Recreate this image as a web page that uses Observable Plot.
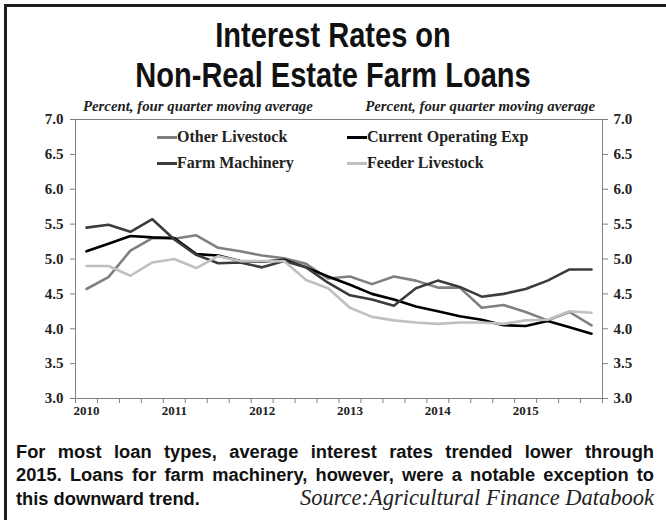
<!DOCTYPE html>
<html><head><meta charset="utf-8">
<script src="https://cdn.jsdelivr.net/npm/d3@7"></script>
<script src="https://cdn.jsdelivr.net/npm/@observablehq/plot@0.6"></script>
<style>
html,body{margin:0;padding:0;background:#fff;}
#root{position:relative;width:666px;height:520px;overflow:hidden;background:#fff;}
#border{position:absolute;left:4px;top:4px;width:700px;height:600px;border-left:3px solid #1e1e1e;border-top:3px solid #1e1e1e;}
#title{position:absolute;left:0;width:666px;top:15px;text-align:center;font-family:"Liberation Sans",Arial,sans-serif;font-weight:bold;font-size:35px;line-height:40px;color:#111;transform:scaleX(0.83);transform-origin:333px 0;}
.sub{position:absolute;top:99px;font-family:"Liberation Serif",serif;font-style:italic;font-weight:bold;font-size:14.8px;line-height:15px;color:#222;white-space:nowrap;}
#chart{position:absolute;left:0;top:100px;}
.leg{position:absolute;display:flex;align-items:center;font-family:"Liberation Serif",serif;font-weight:bold;font-size:16px;line-height:18px;color:#222;white-space:nowrap;}
.leg .sw{display:inline-block;width:20px;height:3px;}
.cap{position:absolute;left:16px;width:638px;font-family:"Liberation Sans",Arial,sans-serif;font-weight:bold;font-size:18.3px;line-height:23px;color:#111;text-align:justify;text-align-last:justify;white-space:nowrap;}
.cap3{display:flex;justify-content:space-between;align-items:baseline;text-align:left;text-align-last:auto;}
.src{font-family:"Liberation Serif",serif;font-style:italic;font-weight:normal;font-size:22.5px;color:#222;}
</style>
</head><body>
<div id="root">
  <div id="border"></div>
  <div id="title">Interest Rates on<br>Non-Real Estate Farm Loans</div>
  <div id="chart"></div>
  <div class="sub" style="left:83px;">Percent, four quarter moving average</div>
  <div class="sub" style="right:71px;">Percent, four quarter moving average</div>
  <div id="legend"></div>
  <div class="cap" style="top:440px;">For most loan types, average interest rates trended lower through</div>
  <div class="cap" style="top:463px;">2015. Loans for farm machinery, however, were a notable exception to</div>
  <div class="cap cap3" style="top:486px;"><span>this downward trend.</span><span class="src">Source:Agricultural Finance Databook</span></div>
</div>
<script>
const years = ["2010","2011","2012","2013","2014","2015"];
const quarterNames = ["Q1","Q2","Q3","Q4"];
const yTicks = [3.0,3.5,4.0,4.5,5.0,5.5,6.0,6.5,7.0];
const seriesNames = ["Other Livestock","Current Operating Exp","Farm Machinery","Feeder Livestock"];
const seriesColors = ["#808080","#000000","#3c3c3c","#c0c0c0"];

const otherLivestock   = [4.57,4.74,5.12,5.30,5.29,5.34,5.16,5.11,5.05,5.01,4.93,4.72,4.75,4.64,4.75,4.69,4.59,4.59,4.30,4.34,4.24,4.12,4.24,4.05];
const currentOperating = [5.11,5.22,5.33,5.31,5.30,5.07,5.05,4.97,4.96,4.99,4.88,4.75,4.63,4.50,4.42,4.32,4.25,4.18,4.13,4.05,4.04,4.11,4.02,3.93];
const farmMachinery    = [5.45,5.49,5.39,5.57,5.28,5.06,4.94,4.95,4.88,4.97,4.88,4.66,4.48,4.42,4.33,4.58,4.69,4.60,4.46,4.50,4.57,4.69,4.85,4.85];
const feederLivestock  = [4.90,4.90,4.76,4.95,5.00,4.87,5.04,4.97,4.97,4.97,4.70,4.58,4.30,4.17,4.12,4.09,4.07,4.09,4.09,4.07,4.12,4.13,4.25,4.23];

const seriesValues = [otherLivestock, currentOperating, farmMachinery, feederLivestock];
const quarters = years.flatMap(y => quarterNames.map(q => y + q));
const data = seriesNames.flatMap((name, s) => seriesValues[s].map((v, i) => ({series: name, quarter: quarters[i], i, value: v})));
const boundaries = d3.range(quarters.length + 1).map(i => i - 0.5);
const yearPos = years.map((y, k) => k * quarterNames.length);

const chart = Plot.plot({
  width: 666, height: 320,
  marginTop: 19, marginBottom: 22, marginLeft: 75, marginRight: 64,
  style: {fontFamily: "Liberation Serif, serif", fontWeight: "bold", color: "#222", background: "transparent"},
  x: {domain: [-0.5, quarters.length - 0.5]},
  y: {domain: [yTicks[0], yTicks[yTicks.length - 1]]},
  color: {domain: seriesNames, range: seriesColors},
  marks: [
    Plot.frame({stroke: "#808080"}),
    Plot.axisY(yTicks, {anchor: "left", tickSize: 5, tickPadding: 7, tickFormat: d3.format(".1f"), fontSize: 15, stroke: "#808080", fill: "#222", label: null}),
    Plot.axisY(yTicks, {anchor: "right", tickSize: 5, tickPadding: 6, tickFormat: d3.format(".1f"), fontSize: 15, stroke: "#808080", fill: "#222", label: null}),
    Plot.axisX(boundaries, {anchor: "bottom", tickSize: 5, tickFormat: () => "", stroke: "#808080", label: null}),
    Plot.axisX(yearPos, {anchor: "bottom", tickSize: 0, tickPadding: 7, tickFormat: p => years[p / quarterNames.length], fontSize: 13, fill: "#222", label: null}),
    Plot.line(data, {x: "i", y: "value", z: "series", stroke: "series", strokeWidth: 2.6, strokeLinejoin: "round", strokeLinecap: "round"})
  ]
});
document.getElementById("chart").appendChild(chart);

const legendPos = [[157,128],[347,128],[157,154],[347,154]];
const leg = document.getElementById("legend");
seriesNames.forEach((name, k) => {
  const d = document.createElement("div");
  d.className = "leg";
  d.style.left = legendPos[k][0] + "px";
  d.style.top = legendPos[k][1] + "px";
  d.innerHTML = `<span class="sw" style="background:${seriesColors[k]}"></span><span>${name}</span>`;
  leg.appendChild(d);
});
</script>
</body></html>
